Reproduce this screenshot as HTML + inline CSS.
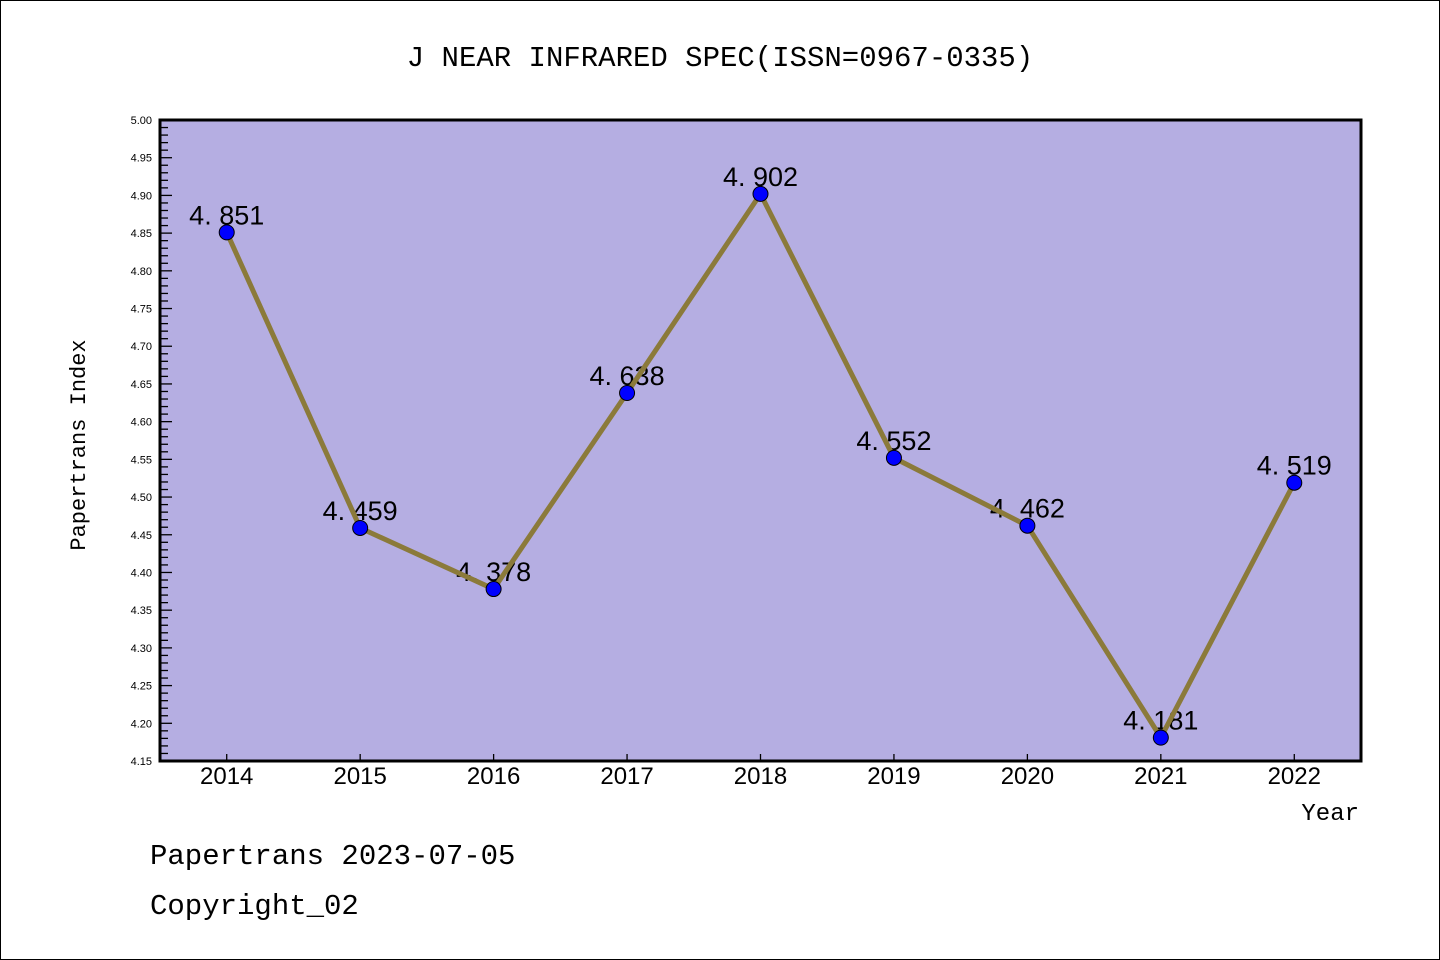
<!DOCTYPE html>
<html><head><meta charset="utf-8"><style>
html,body{margin:0;padding:0;background:#fff}
svg{display:block}
text{font-family:"Liberation Mono","DejaVu Sans Mono",monospace}
</style></head><body>
<svg id="chart" width="1440" height="960" xmlns="http://www.w3.org/2000/svg">
<rect x="0.5" y="0.5" width="1439" height="959" fill="#fff" stroke="#000" stroke-width="1"/>
<text x="720" y="66" text-anchor="middle" font-size="29" fill="#000">J NEAR INFRARED SPEC(ISSN=0967-0335)</text>
<rect x="160" y="120" width="1201" height="641" fill="#b5aee2"/>
<g id="grid"></g>
<g id="labels"></g>
<g id="series"></g>
<rect x="160" y="120" width="1201" height="641" fill="none" stroke="#000" stroke-width="3"/>
<text transform="translate(85,445) rotate(-90)" text-anchor="middle" font-size="22" fill="#000">Papertrans Index</text>
<text x="1359" y="820" text-anchor="end" font-size="24" fill="#000">Year</text>
<text x="150" y="864" font-size="29" fill="#000">Papertrans 2023-07-05</text>
<text x="150" y="914" font-size="29" fill="#000">Copyright_02</text>
</svg>
<script>
const years = [2014,2015,2016,2017,2018,2019,2020,2021,2022];
const values = [4.851,4.459,4.378,4.638,4.902,4.552,4.462,4.181,4.519];
const valueLabels = ["4.851","4.459","4.378","4.638","4.902","4.552","4.462","4.181","4.519"];
const yTicks = [4.15,4.20,4.25,4.30,4.35,4.40,4.45,4.50,4.55,4.60,4.65,4.70,4.75,4.80,4.85,4.90,4.95,5.00];
const NS="http://www.w3.org/2000/svg";
const L=160,R=1361,T=120,B=761,yMin=4.15,yMax=5.0;
const xS=v=>L+(v-(years[0]-0.5))/(years.length)*(R-L);
const yS=v=>B-(v-yMin)/(yMax-yMin)*(B-T);
function mk(tag,attrs,parent){const e=document.createElementNS(NS,tag);for(const k in attrs)e.setAttribute(k,attrs[k]);parent.appendChild(e);return e;}
const grid=document.getElementById('grid'),labels=document.getElementById('labels'),series=document.getElementById('series');
for(let i=0;i<=85;i++){
  const v=yMin+i*0.01,y=yS(v),major=i%5===0;
  const t=mk('line',{x1:L,x2:L+(major?12:8),y1:y,y2:y,stroke:'#000','stroke-width':1.3},grid);
  
  
}
yTicks.forEach(v=>{
  const t=mk('text',{x:152,y:yS(v)+4,'text-anchor':'end','font-size':11,fill:'#000'},grid);
  
  
  t.setAttribute('style','font-family:"Liberation Sans",sans-serif');
  t.textContent=v.toFixed(2);
});
years.forEach(yr=>{
  const x=xS(yr);
  const t=mk('line',{x1:x,x2:x,y1:B,y2:B-7,stroke:'#000','stroke-width':1.3},grid);
  
  
  const l=mk('text',{x:x,y:784,'text-anchor':'middle','font-size':24,fill:'#000'},grid);
  
  
  l.setAttribute('style','font-family:"Liberation Sans",sans-serif');
  l.textContent=yr;
});
values.forEach((v,i)=>{
  const t=mk('text',{x:xS(years[i]),y:yS(v)-8,'text-anchor':'middle','font-size':27,fill:'#000'},labels);
  
  
  t.setAttribute('style','font-family:"Liberation Sans",sans-serif');
  t.textContent=valueLabels[i].replace('.','. ');
});
const pl=mk('polyline',{points:values.map((v,i)=>xS(years[i])+','+yS(v)).join(' '),fill:'none',stroke:'#8b7a3a','stroke-width':5,'stroke-linejoin':'round'},series);


values.forEach((v,i)=>{
  const c=mk('circle',{cx:xS(years[i]),cy:yS(v),r:7.5,fill:'#0000ff',stroke:'#000','stroke-width':1},series);
  
  
});
</script>
</body></html>
